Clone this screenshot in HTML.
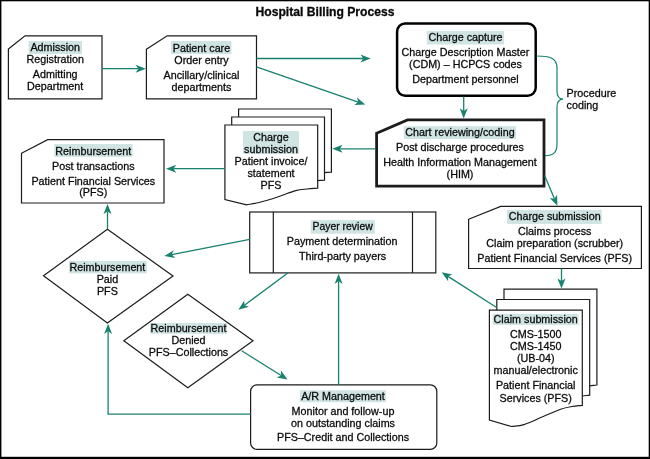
<!DOCTYPE html>
<html lang="en"><head><meta charset="utf-8"><title>Hospital Billing Process</title>
<style>html,body{margin:0;padding:0;background:#fff}body{width:650px;height:459px;overflow:hidden}svg{display:block;will-change:transform}text{font-family:"Liberation Sans",sans-serif}</style>
</head><body>
<svg width="650" height="459" viewBox="0 0 650 459" font-family="'Liberation Sans', sans-serif" fill="#1c1c1c">
<rect x="0" y="0" width="650" height="459" fill="#fff"/>
<rect x="0" y="0" width="650" height="1.3" fill="#000"/>
<rect x="0" y="0" width="1.4" height="459" fill="#000"/>
<rect x="648.7" y="0" width="1.3" height="459" fill="#000"/>
<rect x="0" y="456.8" width="650" height="2.2" fill="#000"/>
<text x="325.0" y="16.3" text-anchor="middle" font-size="12.15" fill="#0a0a0a" stroke="#0a0a0a" stroke-width="0.3" font-weight="bold">Hospital Billing Process</text>
<path d="M8.4 49 L25 35.8 L102 35.8 L102 98.8 L8.4 98.8 Z" fill="#fff" stroke="#1c1c1c" stroke-width="1.2" stroke-linejoin="miter"/>
<rect x="28.6" y="41.0" width="53.4" height="13.0" fill="#cfe4e3"/>
<text x="55.2" y="51" text-anchor="middle" font-size="10.75" fill="#0a0a0a" stroke="#0a0a0a" stroke-width="0.28">Admission</text>
<text x="55.2" y="63" text-anchor="middle" font-size="10.75" fill="#0a0a0a" stroke="#0a0a0a" stroke-width="0.28">Registration</text>
<text x="55.2" y="78" text-anchor="middle" font-size="10.75" fill="#0a0a0a" stroke="#0a0a0a" stroke-width="0.28">Admitting</text>
<text x="55.2" y="90" text-anchor="middle" font-size="10.75" fill="#0a0a0a" stroke="#0a0a0a" stroke-width="0.28">Department</text>
<path d="M146.4 49.3 L167.2 35.8 L256.5 35.8 L256.5 98.8 L146.4 98.8 Z" fill="#fff" stroke="#1c1c1c" stroke-width="1.2" stroke-linejoin="miter"/>
<rect x="171.0" y="41.0" width="60.5" height="13.0" fill="#cfe4e3"/>
<text x="201.5" y="52" text-anchor="middle" font-size="10.75" fill="#0a0a0a" stroke="#0a0a0a" stroke-width="0.28">Patient care</text>
<text x="201.5" y="64" text-anchor="middle" font-size="10.75" fill="#0a0a0a" stroke="#0a0a0a" stroke-width="0.28">Order entry</text>
<text x="201.5" y="79" text-anchor="middle" font-size="10.75" fill="#0a0a0a" stroke="#0a0a0a" stroke-width="0.28">Ancillary/clinical</text>
<text x="201.5" y="91" text-anchor="middle" font-size="10.75" fill="#0a0a0a" stroke="#0a0a0a" stroke-width="0.28">departments</text>
<rect x="397.1" y="23.6" width="138.6" height="72.2" rx="8" ry="8" fill="#fff" stroke="#000" stroke-width="2.5"/>
<rect x="426.8" y="30.8" width="77.2" height="13.7" fill="#cfe4e3"/>
<text x="465.5" y="41" text-anchor="middle" font-size="10.75" fill="#0a0a0a" stroke="#0a0a0a" stroke-width="0.28">Charge capture</text>
<text x="465.5" y="56" text-anchor="middle" font-size="10.75" fill="#0a0a0a" stroke="#0a0a0a" stroke-width="0.28">Charge Description Master</text>
<text x="465.5" y="68" text-anchor="middle" font-size="10.75" fill="#0a0a0a" stroke="#0a0a0a" stroke-width="0.28">(CDM) – HCPCS codes</text>
<text x="465.5" y="83" text-anchor="middle" font-size="10.75" fill="#0a0a0a" stroke="#0a0a0a" stroke-width="0.28">Department personnel</text>
<path d="M376.6 133.2 L407.5 119.9 L544 119.9 L544 186.2 L376.6 186.2 Z" fill="#fff" stroke="#1c1c1c" stroke-width="2.8" stroke-linejoin="miter"/>
<rect x="403.8" y="126.2" width="112.2" height="12.8" fill="#cfe4e3"/>
<text x="460.0" y="136" text-anchor="middle" font-size="10.75" fill="#0a0a0a" stroke="#0a0a0a" stroke-width="0.28">Chart reviewing/coding</text>
<text x="460.0" y="151" text-anchor="middle" font-size="10.75" fill="#0a0a0a" stroke="#0a0a0a" stroke-width="0.28">Post discharge procedures</text>
<text x="460.0" y="166" text-anchor="middle" font-size="10.75" fill="#0a0a0a" stroke="#0a0a0a" stroke-width="0.28">Health Information Management</text>
<text x="460.0" y="178" text-anchor="middle" font-size="10.75" fill="#0a0a0a" stroke="#0a0a0a" stroke-width="0.28">(HIM)</text>
<path d="M536.5 56 C550 56 557 58 557 68 L557 91 C557 96 558.5 99 563 99.2 C558.5 99.4 557 102.5 557 107 L557 144 C557 153 553 155.6 545 155.6" fill="none" stroke="#18826f" stroke-width="1.2"/>
<text x="566.6" y="97" text-anchor="start" font-size="10.75" fill="#0a0a0a" stroke="#0a0a0a" stroke-width="0.28">Procedure</text>
<text x="566.6" y="109" text-anchor="start" font-size="10.75" fill="#0a0a0a" stroke="#0a0a0a" stroke-width="0.28">coding</text>
<path d="M238.6 109 L238.6 183.50 L260.30 188.70 C263.72 188.07 267.50 187.75 272.80 186.40 C278.10 185.05 286.00 182.58 292.10 180.60 C298.20 178.62 304.60 175.78 309.40 174.50 C314.20 173.22 317.23 173.30 320.90 172.90 C324.57 172.50 327.90 172.37 331.40 172.10 L331.40 109 Z" fill="#fff" stroke="#1c1c1c" stroke-width="1.2" stroke-linejoin="miter"/>
<path d="M231.7 117 L231.7 191.50 L253.40 196.70 C256.82 196.07 260.60 195.75 265.90 194.40 C271.20 193.05 279.10 190.58 285.20 188.60 C291.30 186.62 297.70 183.78 302.50 182.50 C307.30 181.22 310.33 181.30 314.00 180.90 C317.67 180.50 321.00 180.37 324.50 180.10 L324.50 117 Z" fill="#fff" stroke="#1c1c1c" stroke-width="1.2" stroke-linejoin="miter"/>
<path d="M224.9 125 L224.9 199.60 L246.60 204.80 C250.02 204.17 253.80 203.85 259.10 202.50 C264.40 201.15 272.30 198.68 278.40 196.70 C284.50 194.72 290.90 191.88 295.70 190.60 C300.50 189.32 303.53 189.40 307.20 189.00 C310.87 188.60 314.20 188.47 317.70 188.20 L317.70 125 Z" fill="#fff" stroke="#1c1c1c" stroke-width="1.2" stroke-linejoin="miter"/>
<rect x="243.0" y="131.0" width="56.0" height="23.0" fill="#cfe4e3"/>
<text x="271.0" y="141" text-anchor="middle" font-size="10.75" fill="#0a0a0a" stroke="#0a0a0a" stroke-width="0.28">Charge</text>
<text x="271.0" y="153" text-anchor="middle" font-size="10.75" fill="#0a0a0a" stroke="#0a0a0a" stroke-width="0.28">submission</text>
<text x="271.0" y="165" text-anchor="middle" font-size="10.75" fill="#0a0a0a" stroke="#0a0a0a" stroke-width="0.28">Patient invoice/</text>
<text x="271.0" y="177" text-anchor="middle" font-size="10.75" fill="#0a0a0a" stroke="#0a0a0a" stroke-width="0.28">statement</text>
<text x="271.0" y="189" text-anchor="middle" font-size="10.75" fill="#0a0a0a" stroke="#0a0a0a" stroke-width="0.28">PFS</text>
<path d="M21.5 153.2 L47.7 139.7 L164 139.7 L164 203 L21.5 203 Z" fill="#fff" stroke="#1c1c1c" stroke-width="1.2" stroke-linejoin="miter"/>
<rect x="54.3" y="144.0" width="78.3" height="12.9" fill="#cfe4e3"/>
<text x="93.3" y="155" text-anchor="middle" font-size="10.75" fill="#0a0a0a" stroke="#0a0a0a" stroke-width="0.28">Reimbursement</text>
<text x="93.3" y="170" text-anchor="middle" font-size="10.75" fill="#0a0a0a" stroke="#0a0a0a" stroke-width="0.28">Post transactions</text>
<text x="93.3" y="185" text-anchor="middle" font-size="10.75" fill="#0a0a0a" stroke="#0a0a0a" stroke-width="0.28">Patient Financial Services</text>
<text x="93.3" y="196" text-anchor="middle" font-size="10.75" fill="#0a0a0a" stroke="#0a0a0a" stroke-width="0.28">(PFS)</text>
<path d="M107.4 229.2 L173 276 L107.4 323 L43.5 275.8 Z" fill="#fff" stroke="#1c1c1c" stroke-width="1.2"/>
<rect x="68.9" y="260.9" width="78.0" height="12.5" fill="#cfe4e3"/>
<text x="107.4" y="271" text-anchor="middle" font-size="10.75" fill="#0a0a0a" stroke="#0a0a0a" stroke-width="0.28">Reimbursement</text>
<text x="107.4" y="283" text-anchor="middle" font-size="10.75" fill="#0a0a0a" stroke="#0a0a0a" stroke-width="0.28">Paid</text>
<text x="107.4" y="295" text-anchor="middle" font-size="10.75" fill="#0a0a0a" stroke="#0a0a0a" stroke-width="0.28">PFS</text>
<path d="M187.8 294.2 L253 340.7 L187.8 387.7 L123.8 340.7 Z" fill="#fff" stroke="#1c1c1c" stroke-width="1.2"/>
<rect x="150.0" y="323.0" width="77.0" height="10.8" fill="#cfe4e3"/>
<text x="188.5" y="332" text-anchor="middle" font-size="10.75" fill="#0a0a0a" stroke="#0a0a0a" stroke-width="0.28">Reimbursement</text>
<text x="188.5" y="344" text-anchor="middle" font-size="10.75" fill="#0a0a0a" stroke="#0a0a0a" stroke-width="0.28">Denied</text>
<text x="188.5" y="356" text-anchor="middle" font-size="10.75" fill="#0a0a0a" stroke="#0a0a0a" stroke-width="0.28">PFS–Collections</text>
<rect x="249.7" y="212" width="186.1" height="60.9" fill="#fff" stroke="#1c1c1c" stroke-width="1.2"/>
<path d="M273.3 212 V272.9 M412.5 212 V272.9" stroke="#1c1c1c" stroke-width="1.2" fill="none"/>
<rect x="310.8" y="220.1" width="64.0" height="13.6" fill="#cfe4e3"/>
<text x="342.6" y="230" text-anchor="middle" font-size="10.75" fill="#0a0a0a" stroke="#0a0a0a" stroke-width="0.28" textLength="60.2" lengthAdjust="spacingAndGlyphs">Payer review</text>
<text x="342.1" y="245" text-anchor="middle" font-size="10.75" fill="#0a0a0a" stroke="#0a0a0a" stroke-width="0.28">Payment determination</text>
<text x="342.5" y="260" text-anchor="middle" font-size="10.75" fill="#0a0a0a" stroke="#0a0a0a" stroke-width="0.28">Third-party payers</text>
<path d="M468.6 219.2 L500.7 206.4 L641.4 206.4 L641.4 268.5 L468.6 268.5 Z" fill="#fff" stroke="#1c1c1c" stroke-width="1.2" stroke-linejoin="miter"/>
<rect x="507.0" y="209.9" width="94.7" height="14.0" fill="#cfe4e3"/>
<text x="554.7" y="220" text-anchor="middle" font-size="10.75" fill="#0a0a0a" stroke="#0a0a0a" stroke-width="0.28">Charge submission</text>
<text x="554.7" y="235" text-anchor="middle" font-size="10.75" fill="#0a0a0a" stroke="#0a0a0a" stroke-width="0.28">Claims process</text>
<text x="554.7" y="247" text-anchor="middle" font-size="10.75" fill="#0a0a0a" stroke="#0a0a0a" stroke-width="0.28">Claim preparation (scrubber)</text>
<text x="554.7" y="262" text-anchor="middle" font-size="10.75" fill="#0a0a0a" stroke="#0a0a0a" stroke-width="0.28">Patient Financial Services (PFS)</text>
<path d="M504 289.2 L504 399.60 L526.10 406.10 C529.52 405.53 533.30 405.87 538.60 404.20 C543.90 402.53 551.80 398.67 557.90 396.10 C564.00 393.53 570.40 390.47 575.20 388.80 C580.00 387.13 583.08 386.73 586.70 386.10 C590.32 385.47 593.50 385.37 596.90 385.00 L596.90 289.2 Z" fill="#fff" stroke="#1c1c1c" stroke-width="1.2" stroke-linejoin="miter"/>
<path d="M496.8 299.5 L496.8 409.80 L518.90 416.30 C522.32 415.73 526.10 416.07 531.40 414.40 C536.70 412.73 544.60 408.87 550.70 406.30 C556.80 403.73 563.20 400.67 568.00 399.00 C572.80 397.33 575.88 396.93 579.50 396.30 C583.12 395.67 586.30 395.57 589.70 395.20 L589.70 299.5 Z" fill="#fff" stroke="#1c1c1c" stroke-width="1.2" stroke-linejoin="miter"/>
<path d="M489.4 310.1 L489.4 420.00 L511.50 426.50 C514.92 425.93 518.70 426.27 524.00 424.60 C529.30 422.93 537.20 419.07 543.30 416.50 C549.40 413.93 555.80 410.87 560.60 409.20 C565.40 407.53 568.48 407.13 572.10 406.50 C575.72 405.87 578.90 405.77 582.30 405.40 L582.30 310.1 Z" fill="#fff" stroke="#1c1c1c" stroke-width="1.2" stroke-linejoin="miter"/>
<rect x="492.6" y="313.9" width="86.0" height="11.1" fill="#cfe4e3"/>
<text x="535.7" y="323" text-anchor="middle" font-size="10.75" fill="#0a0a0a" stroke="#0a0a0a" stroke-width="0.28">Claim submission</text>
<text x="535.7" y="338" text-anchor="middle" font-size="10.75" fill="#0a0a0a" stroke="#0a0a0a" stroke-width="0.28">CMS-1500</text>
<text x="535.7" y="350" text-anchor="middle" font-size="10.75" fill="#0a0a0a" stroke="#0a0a0a" stroke-width="0.28">CMS-1450</text>
<text x="535.7" y="362" text-anchor="middle" font-size="10.75" fill="#0a0a0a" stroke="#0a0a0a" stroke-width="0.28">(UB-04)</text>
<text x="535.7" y="374" text-anchor="middle" font-size="10.75" fill="#0a0a0a" stroke="#0a0a0a" stroke-width="0.28">manual/electronic</text>
<text x="535.7" y="389" text-anchor="middle" font-size="10.75" fill="#0a0a0a" stroke="#0a0a0a" stroke-width="0.28">Patient Financial</text>
<text x="535.7" y="402" text-anchor="middle" font-size="10.75" fill="#0a0a0a" stroke="#0a0a0a" stroke-width="0.28">Services (PFS)</text>
<rect x="250.6" y="384.8" width="186.2" height="64.6" rx="6.5" ry="6.5" fill="#fff" stroke="#1c1c1c" stroke-width="1.2"/>
<rect x="299.8" y="390.3" width="86.2" height="11.9" fill="#cfe4e3"/>
<text x="343.0" y="400" text-anchor="middle" font-size="10.75" fill="#0a0a0a" stroke="#0a0a0a" stroke-width="0.28">A/R Management</text>
<text x="343.0" y="415" text-anchor="middle" font-size="10.75" fill="#0a0a0a" stroke="#0a0a0a" stroke-width="0.28">Monitor and follow-up</text>
<text x="343.0" y="427" text-anchor="middle" font-size="10.75" fill="#0a0a0a" stroke="#0a0a0a" stroke-width="0.28">on outstanding claims</text>
<text x="343.0" y="441" text-anchor="middle" font-size="10.75" fill="#0a0a0a" stroke="#0a0a0a" stroke-width="0.28">PFS–Credit and Collections</text>
<path d="M102.00 68.70 L138.30 68.70" fill="none" stroke="#18826f" stroke-width="1.3" stroke-linejoin="miter"/>
<polygon points="145.80,68.70 135.60,72.70 138.30,68.70 135.60,64.70" fill="#18826f"/>
<path d="M256.50 58.50 L363.20 58.50" fill="none" stroke="#18826f" stroke-width="1.3" stroke-linejoin="miter"/>
<polygon points="370.70,58.50 360.50,62.50 363.20,58.50 360.50,54.50" fill="#18826f"/>
<path d="M256.50 66.80 L358.21 102.04" fill="none" stroke="#18826f" stroke-width="1.3" stroke-linejoin="miter"/>
<polygon points="365.30,104.50 354.35,104.94 358.21,102.04 356.97,97.38" fill="#18826f"/>
<path d="M463.70 96.50 L463.70 111.00" fill="none" stroke="#18826f" stroke-width="1.3" stroke-linejoin="miter"/>
<polygon points="463.70,118.50 459.70,108.30 463.70,111.00 467.70,108.30" fill="#18826f"/>
<path d="M375.50 148.80 L339.80 148.80" fill="none" stroke="#18826f" stroke-width="1.3" stroke-linejoin="miter"/>
<polygon points="332.30,148.80 342.50,144.80 339.80,148.80 342.50,152.80" fill="#18826f"/>
<path d="M224.80 168.70 L173.50 168.70" fill="none" stroke="#18826f" stroke-width="1.3" stroke-linejoin="miter"/>
<polygon points="166.00,168.70 176.20,164.70 173.50,168.70 176.20,172.70" fill="#18826f"/>
<path d="M544.60 175.60 L554.46 198.80" fill="none" stroke="#18826f" stroke-width="1.3" stroke-linejoin="miter"/>
<polygon points="557.40,205.70 549.73,197.88 554.46,198.80 557.09,194.75" fill="#18826f"/>
<path d="M561.50 268.50 L561.50 281.10" fill="none" stroke="#18826f" stroke-width="1.3" stroke-linejoin="miter"/>
<polygon points="561.50,288.60 557.50,278.40 561.50,281.10 565.50,278.40" fill="#18826f"/>
<path d="M497.00 307.70 L448.02 276.34" fill="none" stroke="#18826f" stroke-width="1.3" stroke-linejoin="miter"/>
<polygon points="441.70,272.30 452.45,274.43 448.02,276.34 448.13,281.17" fill="#18826f"/>
<path d="M249.70 239.40 L171.76 254.57" fill="none" stroke="#18826f" stroke-width="1.3" stroke-linejoin="miter"/>
<polygon points="164.40,256.00 173.65,250.13 171.76,254.57 175.18,257.98" fill="#18826f"/>
<path d="M288.50 272.60 L244.43 305.24" fill="none" stroke="#18826f" stroke-width="1.3" stroke-linejoin="miter"/>
<polygon points="238.40,309.70 244.22,300.42 244.43,305.24 248.98,306.84" fill="#18826f"/>
<path d="M241.70 350.80 L281.14 375.43" fill="none" stroke="#18826f" stroke-width="1.3" stroke-linejoin="miter"/>
<polygon points="287.50,379.40 276.73,377.39 281.14,375.43 280.97,370.60" fill="#18826f"/>
<path d="M338.60 384.80 L338.60 281.30" fill="none" stroke="#18826f" stroke-width="1.3" stroke-linejoin="miter"/>
<polygon points="338.60,273.80 342.60,284.00 338.60,281.30 334.60,284.00" fill="#18826f"/>
<path d="M250.60 414.10 L108.10 414.10 L108.10 331.20" fill="none" stroke="#18826f" stroke-width="1.3" stroke-linejoin="miter"/>
<polygon points="108.10,323.70 112.10,333.90 108.10,331.20 104.10,333.90" fill="#18826f"/>
<path d="M107.50 229.20 L107.50 211.40" fill="none" stroke="#18826f" stroke-width="1.3" stroke-linejoin="miter"/>
<polygon points="107.50,203.90 111.50,214.10 107.50,211.40 103.50,214.10" fill="#18826f"/>
</svg>
</body></html>
